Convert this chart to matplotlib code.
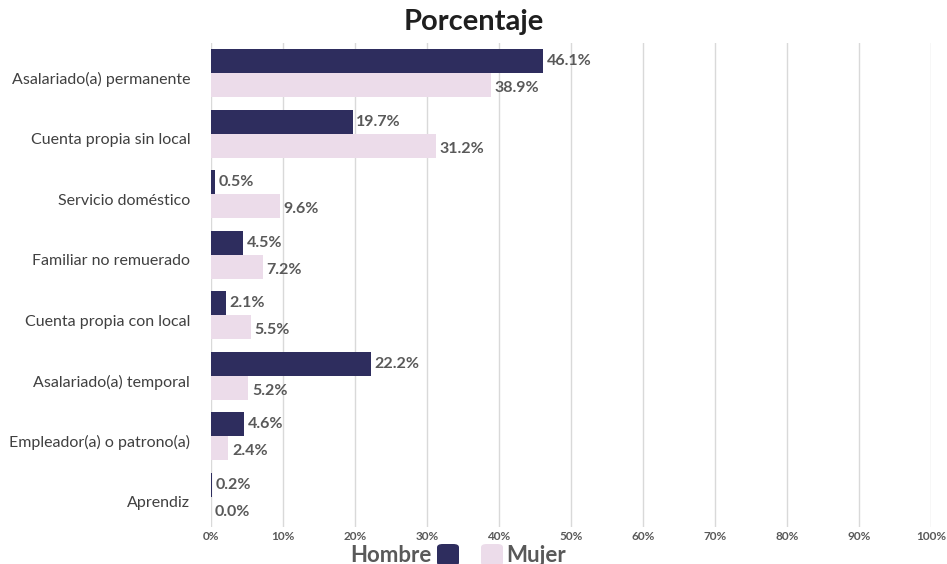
import matplotlib
matplotlib.use("Agg")
import matplotlib.pyplot as plt
from matplotlib.patches import FancyBboxPatch
import numpy as np

plt.rcParams['font.family'] = ['Lato', 'DejaVu Sans']

categories = [
    "Asalariado(a) permanente",
    "Cuenta propia sin local",
    "Servicio doméstico",
    "Familiar no remuerado",
    "Cuenta propia con local",
    "Asalariado(a) temporal",
    "Empleador(a) o patrono(a)",
    "Aprendiz",
]
hombre = [46.1, 19.7, 0.5, 4.5, 2.1, 22.2, 4.6, 0.2]
mujer = [38.9, 31.2, 9.6, 7.2, 5.5, 5.2, 2.4, 0.0]
xticks = [0, 10, 20, 30, 40, 50, 60, 70, 80, 90, 100]
xtick_labels = [f"{t}%" for t in xticks]
series_names = ["Hombre", "Mujer"]

c_h = "#2e2d5e"
c_m = "#ecdcea"
txt = "#595959"

fig = plt.figure(figsize=(9.47, 5.64), dpi=100)
ax = fig.add_axes([211 / 947, 1 - 527 / 564, (931 - 211) / 947, (527 - 43) / 564])

y = np.arange(len(categories))
h = 0.4
ax.barh(y - h / 2, hombre, height=h, color=c_h, zorder=3)
ax.barh(y + h / 2, mujer, height=h, color=c_m, zorder=3)

for yi, v in zip(y, hombre):
    ax.text(v + 0.5, yi - h / 2, f"{v:.1f}%", va="center", ha="left",
            fontsize=11.5, fontweight="bold", color=txt, zorder=4)
for yi, v in zip(y, mujer):
    ax.text(v + 0.5, yi + h / 2 + 0.05, f"{v:.1f}%", va="center", ha="left",
            fontsize=11.5, fontweight="bold", color=txt, zorder=4)

ax.set_xlim(0, 100)
ax.set_ylim(len(categories) - 0.5, -0.5)
ax.set_yticks(y + 0.08)
ax.set_yticklabels(categories, fontsize=11.5, color="#404040")
ax.set_xticks(xticks)
ax.set_xticklabels(xtick_labels, fontsize=8.5, fontweight="bold", color=txt)
ax.tick_params(axis="both", length=0)
ax.tick_params(axis="y", pad=15)
ax.tick_params(axis="x", pad=3)
ax.grid(axis="x", color="#d9d9d9", linewidth=1, zorder=0)
for s in ax.spines.values():
    s.set_visible(False)

fig.text(0.5, 1 - 22 / 564, "Porcentaje", ha="center", va="center",
         fontsize=21, fontweight="bold", color="#1f1f1f")

# legend drawn as text and rounded swatches
ly = 1 - 555 / 564
fig.text(432 / 947, ly, series_names[0], ha="right", va="center",
         fontsize=16, fontweight="bold", color=txt)
sw_w, sw_h = 22 / 947, 22 / 564
for x0, col in [(437 / 947, c_h), (481 / 947, c_m)]:
    fig.patches.append(FancyBboxPatch((x0, ly - sw_h / 2), sw_w, sw_h,
                                      boxstyle="round,pad=0,rounding_size=0.006",
                                      transform=fig.transFigure, facecolor=col,
                                      edgecolor="none"))
fig.text(506 / 947, ly, series_names[1], ha="left", va="center",
         fontsize=16, fontweight="bold", color=txt)

fig.savefig("out.png", dpi=100)
